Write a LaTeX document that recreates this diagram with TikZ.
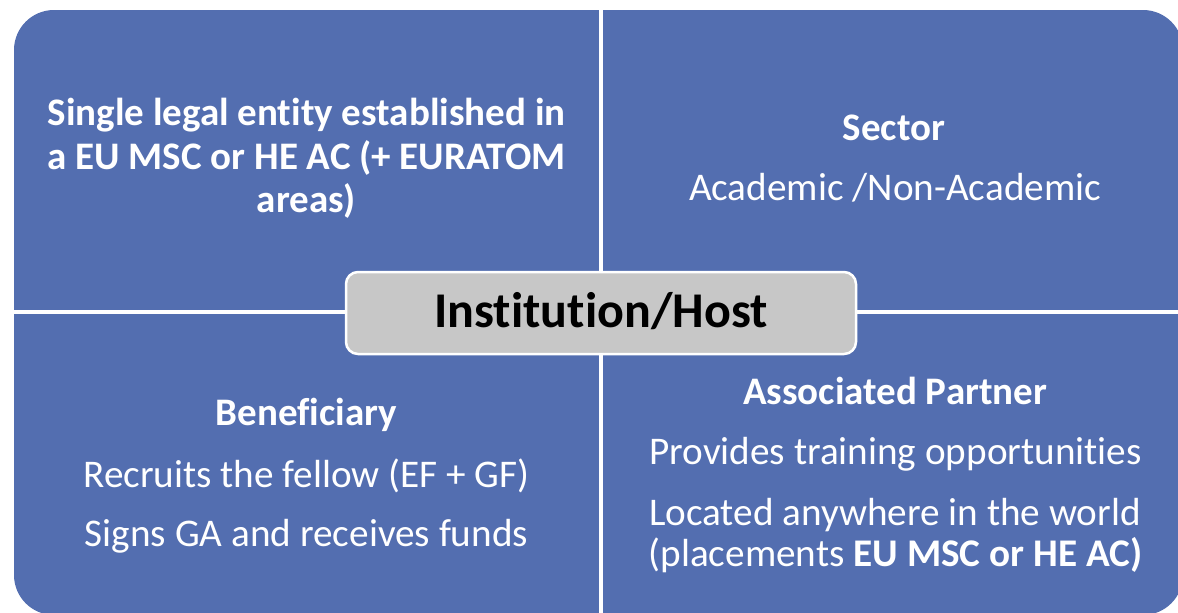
\documentclass[tikz,border=0pt]{standalone}
\usepackage{fontspec}
\setmainfont{Carlito}[Ligatures={NoCommon}]
\newcommand{\nolig}{\kern0pt{}}
\definecolor{quad}{RGB}{83,110,176}
\definecolor{hostgray}{RGB}{199,199,199}
\tikzset{
  body/.style={text=white, inner sep=0pt, anchor=base, font=\fontsize{39.2}{42}\selectfont},
  head/.style={body, font=\fontsize{39}{42}\selectfont\bfseries},
  hostbox/.style={draw=white, line width=2.5pt, fill=hostgray, rounded corners=12pt,
    minimum width=510pt, minimum height=82pt, inner sep=0pt},
  hosttitle/.style={inner sep=0pt, anchor=base, font=\fontsize{50}{56}\selectfont\bfseries, text=black},
  gap/.style={draw=white, line width=4pt}
}
\begin{document}
\begin{tikzpicture}[x=1pt,y=-1pt]
\useasboundingbox (0,0) rectangle (1178,613);
\clip (0,0) rectangle (1178,613);
% quadrant panel
\fill[quad, rounded corners=40pt] (14,10) rectangle (1183,615);
\coordinate (vtop) at (601,0);
\coordinate (vbot) at (601,620);
\coordinate (hl) at (0,312);
\coordinate (hr) at (1190,312);
\draw[gap] (vtop) -- (vbot);
\draw[gap] (hl) -- (hr);
% top left
\node[head] (tl1) at (306.5,125) {Single legal ent\nolig ity established in};
\node[head] (tl2) at (306.5,169) {a EU MSC or HE AC (+ EURATOM};
\node[head] (tl3) at (306.5,212) {areas)};
% top right
\node[head] (tr1) at (894,140) {Sector};
\node[body] (tr2) at (895,200) {Academic /Non-Academic};
% bottom left
\node[head] (bl1) at (306.5,425) {Beneficiary};
\node[body] (bl2) at (306.5,487) {Recruits the fellow (EF + GF)};
\node[body] (bl3) at (306.5,546) {Signs GA and receives funds};
% bottom right
\node[head] (br1) at (895,404) {Associated Partner};
\node[body] (br2) at (895.5,464) {Provides training opportunit\nolig ies};
\node[body] (br3) at (895,525) {Located anywhere in the world};
\node[body] (br4) at (895.5,566) {(placements \textbf{EU MSC or HE AC)}};
% centre
\node[hostbox] (host) at (601,313) {};
\node[hosttitle] (hosttext) at (601,327) {Inst\nolig itut\nolig ion/Host};
\end{tikzpicture}
\end{document}
